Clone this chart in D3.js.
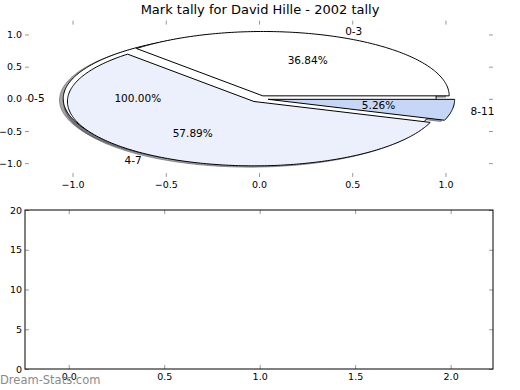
<!DOCTYPE html>
<html lang="en">
<head>
<meta charset="utf-8">
<title>Mark tally for David Hille - 2002 tally</title>
<script src="https://d3js.org/d3.v7.min.js"></script>
<style>
  body { margin: 0; background: #fff; }
  text { font-family: "DejaVu Sans", sans-serif; }
  .tick line { stroke: #999; }
  .tick text { font-size: 9.5px; fill: #000; }
</style>
</head>
<body>
<script>
// chart values
var titleText = "Mark tally for David Hille - 2002 tally";
var outerLabels = ["0-5"];
var outerValues = [19];
var tallyLabels = ["0-3", "4-7", "8-11"];
var tallyValues = [7, 11, 1];
var tallyColors = ["#ffffff", "#ebf0fc", "#c5d6f7"];
var pieTicks = [-1.0, -0.5, 0.0, 0.5, 1.0];
var barXTicks = [0.0, 0.5, 1.0, 1.5, 2.0];
var barYTicks = [0, 5, 10, 15, 20];

var w = 520, h = 390;
var explode = 0.05;

var svg = d3.select("body").append("svg")
  .attr("width", w).attr("height", h);

// top (pie) axes
var x = d3.scaleLinear().domain([-1.255, 1.255]).range([25, 493]);
var y = d3.scaleLinear().domain([-1.215, 1.215]).range([177, 20.6]);

// bottom (empty) axes
var x2 = d3.scaleLinear().domain([-0.229, 2.222]).range([25, 493]);
var y2 = d3.scaleLinear().domain([0, 20]).range([369, 210]);

svg.append("text")
  .attr("x", 260).attr("y", 14)
  .attr("text-anchor", "middle")
  .style("font-size", "13px")
  .text(titleText);

var fmt1 = d3.format(".1f");

function axisGroup(gen, tx, ty, labels) {
  var g = svg.append("g").attr("transform", "translate(" + tx + "," + ty + ")").call(gen);
  g.select(".domain").remove();
  if (!labels) g.selectAll(".tick text").remove();
  return g;
}

axisGroup(d3.axisBottom(x).tickValues(pieTicks).tickFormat(fmt1).tickSize(-4).tickPadding(4), 0, 177, true);
axisGroup(d3.axisTop(x).tickValues(pieTicks).tickSize(-4), 0, 20.6, false);
axisGroup(d3.axisLeft(y).tickValues(pieTicks).tickFormat(fmt1).tickSize(-4).tickPadding(3), 25, 0, true);
axisGroup(d3.axisRight(y).tickValues(pieTicks).tickSize(-4), 493, 0, false);

axisGroup(d3.axisBottom(x2).tickValues(barXTicks).tickFormat(fmt1).tickSize(-4).tickPadding(4), 0, 369, true);
axisGroup(d3.axisTop(x2).tickValues(barXTicks).tickSize(-4), 0, 210, false);
axisGroup(d3.axisLeft(y2).tickValues(barYTicks).tickFormat(d3.format("d")).tickSize(-4).tickPadding(3), 25, 0, true);
axisGroup(d3.axisRight(y2).tickValues(barYTicks).tickSize(-4), 493, 0, false);

svg.append("rect")
  .attr("x", 25).attr("y", 210)
  .attr("width", 468).attr("height", 159)
  .attr("fill", "none").attr("stroke", "#000").attr("stroke-width", 1);

// build wedges, angles counterclockwise from east like matplotlib
function wedges(labels, values) {
  var total = d3.sum(values);
  var acc = 0;
  return values.map(function(v, i) {
    var t0 = acc / total * 2 * Math.PI;
    acc += v;
    var t1 = acc / total * 2 * Math.PI;
    var tm = (t0 + t1) / 2;
    return {
      label: labels[i], frac: v / total, t0: t0, t1: t1, tm: tm,
      cx: explode * Math.cos(tm), cy: explode * Math.sin(tm)
    };
  });
}

function wedgePath(d, ox, oy) {
  var full = (d.t1 - d.t0) >= 2 * Math.PI - 1e-9;
  var n = Math.max(8, Math.ceil((d.t1 - d.t0) / (Math.PI / 180)));
  var pts = [];
  if (!full) pts.push([d.cx + ox, d.cy + oy]);
  for (var k = 0; k <= n; k++) {
    var t = d.t0 + (d.t1 - d.t0) * k / n;
    pts.push([d.cx + ox + Math.cos(t), d.cy + oy + Math.sin(t)]);
  }
  return d3.line().x(function(p) { return x(p[0]); }).y(function(p) { return y(p[1]); })(pts) + "Z";
}

function darker(c) {
  var r = d3.rgb(c);
  return d3.rgb(r.r * 0.3, r.g * 0.3, r.b * 0.3).formatHex();
}

var outer = wedges(outerLabels, outerValues);
var inner = wedges(tallyLabels, tallyValues);

// shadows first
var shadows = svg.append("g");
outer.forEach(function(d) {
  shadows.append("path").attr("d", wedgePath(d, -0.02, -0.02))
    .attr("fill", darker("#ffffff")).attr("stroke", darker("#ffffff"))
    .attr("fill-opacity", 0.5).attr("stroke-opacity", 0.5);
});
inner.forEach(function(d, i) {
  shadows.append("path").attr("d", wedgePath(d, -0.02, -0.02))
    .attr("fill", darker(tallyColors[i])).attr("stroke", darker(tallyColors[i]))
    .attr("fill-opacity", 0.5).attr("stroke-opacity", 0.5);
});

svg.selectAll("path.outer").data(outer).enter().append("path")
  .attr("class", "outer")
  .attr("d", function(d) { return wedgePath(d, 0, 0); })
  .attr("fill", "#ffffff").attr("stroke", "#000").attr("stroke-width", 1);

svg.selectAll("path.inner").data(inner).enter().append("path")
  .attr("class", "inner")
  .attr("d", function(d) { return wedgePath(d, 0, 0); })
  .attr("fill", function(d, i) { return tallyColors[i]; })
  .attr("stroke", "#000").attr("stroke-width", 1);

var pct = d3.format(".2%");
function addTexts(data) {
  data.forEach(function(d) {
    var lx = d.cx + 1.1 * Math.cos(d.tm), ly = d.cy + 1.1 * Math.sin(d.tm);
    svg.append("text")
      .attr("x", x(lx)).attr("y", y(ly))
      .attr("dy", "0.35em")
      .attr("text-anchor", lx > 0 ? "start" : "end")
      .style("font-size", "10.5px")
      .text(d.label);
    var px = d.cx + 0.6 * Math.cos(d.tm), py = d.cy + 0.6 * Math.sin(d.tm);
    svg.append("text")
      .attr("x", x(px)).attr("y", y(py))
      .attr("dy", "0.35em")
      .attr("text-anchor", "middle")
      .style("font-size", "10.5px")
      .text(pct(d.frac));
  });
}
addTexts(outer);
addTexts(inner);

svg.append("text")
  .attr("x", 0).attr("y", 384)
  .style("font-size", "11.5px")
  .attr("fill", "#8a8a8a")
  .text("Dream-Stats.com");
</script>
</body>
</html>
